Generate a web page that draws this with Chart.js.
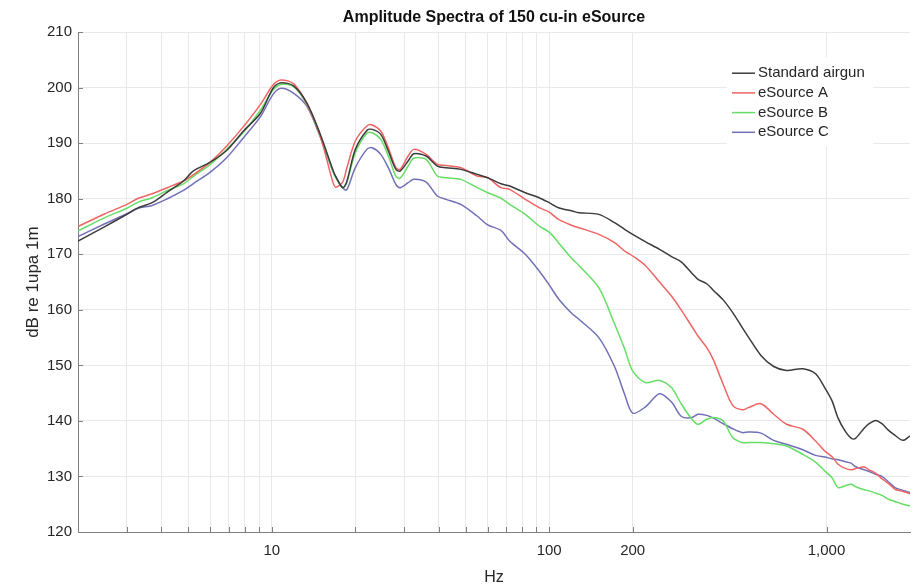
<!DOCTYPE html>
<html>
<head>
<meta charset="utf-8">
<title>Amplitude Spectra of 150 cu-in eSource</title>
<script src="https://cdn.jsdelivr.net/npm/chart.js@4.4.1/dist/chart.umd.min.js"></script>
<style>
  html, body { margin: 0; padding: 0; background: #fff; }
  #wrap { width: 918px; height: 588px; }
</style>
</head>
<body>
<div id="wrap"><canvas id="spectraChart" width="918" height="588"></canvas></div>
<script>
// frequencies (Hz) the curves were read at
const freqs = [
  2, 2.5, 3, 3.3, 3.7, 4.2, 4.8, 5.2, 6, 6.9,
  7.9, 9.1, 10.1, 10.8, 12, 13.4, 14.9, 16.6, 17, 18,
  18.6, 20, 22, 23, 24.7, 26.3, 28, 29, 31, 32.5,
  36, 39.5, 42.5, 48, 55, 60, 67, 72, 82, 92,
  100, 108, 121, 128, 151, 172, 187, 200, 222, 250,
  276, 300, 327, 344, 370, 391, 424, 459, 497, 523,
  580, 645, 717, 821, 913, 985, 1045, 1101, 1163, 1226,
  1268, 1367, 1425, 1502, 1584, 1674, 1767, 1888, 2000
];

// dB re 1upa 1m
const standardAirgun = [
  172.4, 175.0, 177.2, 178.4, 179.3, 181.2, 183.2, 185.0, 186.6, 188.8,
  192.2, 195.4, 199.9, 200.9, 200.3, 197.2, 191.8, 185.2, 184.0, 182.0,
  183.0, 188.9, 192.3, 192.5, 191.6, 188.6, 185.3, 185.0, 186.8, 188.1,
  187.7, 185.9, 185.6, 185.3, 184.4, 183.8, 182.7, 182.3, 181.1, 180.2,
  179.3, 178.4, 177.8, 177.5, 177.2, 175.7, 174.5, 173.6, 172.3, 170.9,
  169.6, 168.6, 166.6, 165.5, 164.7, 163.5, 161.8, 159.5, 156.8, 155.1,
  151.8, 149.8, 149.1, 149.4, 148.5, 146.0, 143.7, 140.5, 138.3, 136.9,
  136.8, 138.7, 139.5, 140.1, 139.5, 138.3, 137.4, 136.5, 137.3
];
const eSourceA = [
  175.0, 177.3, 179.0, 180.1, 180.9, 182.0, 183.2, 184.3, 186.6, 189.6,
  193.0, 197.0, 200.5, 201.4, 200.7, 197.0, 191.5, 183.0, 182.1, 183.0,
  185.4, 190.4, 193.1, 193.3, 192.2, 189.2, 185.6, 185.3, 187.7, 188.9,
  188.0, 186.2, 186.0, 185.6, 184.1, 183.8, 182.0, 181.7, 179.9, 178.4,
  177.6, 176.3, 175.2, 174.8, 173.6, 172.1, 170.6, 169.7, 168.0, 165.0,
  162.5, 159.9, 157.0, 155.3, 153.2, 151.0, 146.6, 142.8, 142.0, 142.4,
  143.1, 141.2, 139.4, 138.5, 136.4, 134.6, 133.6, 132.2, 131.5, 131.2,
  131.4, 131.7, 131.2, 130.6, 129.6, 128.7, 127.7, 127.3, 126.9
];
const eSourceB = [
  174.2, 176.6, 178.3, 179.4, 180.2, 181.5, 182.7, 184.0, 186.2, 189.0,
  192.0, 196.0, 199.6, 200.6, 200.2, 196.9, 191.5, 185.0, 183.8, 182.0,
  182.8, 188.3, 191.8, 191.9, 190.7, 187.7, 184.1, 183.7, 185.9, 187.3,
  187.1, 184.1, 183.8, 183.5, 182.0, 181.1, 180.1, 179.0, 177.2, 175.1,
  174.0, 172.1, 169.2, 168.0, 164.0, 157.5, 153.0, 149.0, 146.9, 147.3,
  146.0, 143.0, 140.3, 139.4, 140.3, 140.6, 140.0, 137.0, 136.1, 136.1,
  136.1, 135.9, 135.5, 134.0, 132.6, 131.0, 129.8, 128.0, 128.3, 128.6,
  128.2, 127.6, 127.4, 127.0, 126.6, 125.9, 125.5, 125.0, 124.7
];
const eSourceC = [
  173.2, 175.5, 177.3, 178.3, 178.8, 180.0, 181.5, 182.7, 184.8, 187.5,
  191.0, 194.8, 198.8, 199.9, 199.0, 196.6, 191.3, 185.0, 184.0, 182.0,
  181.6, 185.6, 188.9, 189.2, 188.0, 185.6, 182.6, 182.0, 182.9, 183.5,
  183.0, 180.5, 179.9, 179.0, 176.9, 175.3, 174.3, 172.4, 170.0, 167.0,
  164.5, 162.0, 159.3, 158.3, 155.0, 149.8, 144.8, 141.4, 142.5, 144.9,
  143.4, 140.8, 140.6, 141.2, 141.0, 140.5, 139.5, 138.6, 137.9, 138.0,
  137.8, 136.5, 135.8, 134.8, 133.8, 133.5, 133.2, 133.0, 132.7, 132.4,
  131.8, 131.2, 130.9, 130.4, 130.0, 129.0, 128.0, 127.5, 127.1
];

const seriesNames = ['Standard airgun', 'eSource A', 'eSource B', 'eSource C'];
const seriesColors = ['#3c3c3c', '#f06464', '#66de66', '#7070b8'];

const xTickValues = [2, 3, 4, 5, 6, 7, 8, 9, 10, 20, 30, 40, 50, 60, 70, 80, 90, 100, 200, 1000];
const xLabelValues = [10, 100, 200, 1000];

const FONT = '"Liberation Sans", Arial, Helvetica, sans-serif';
const TEXT = '#262626';

function toPoints(vals) {
  return freqs.map((f, i) => ({ x: f, y: vals[i] }));
}

// MATLAB-ish tick marks pointing into the plot
const innerTicks = {
  id: 'innerTicks',
  afterDatasetsDraw(chart) {
    const { ctx, chartArea: a, scales: { x, y } } = chart;
    ctx.save();
    ctx.strokeStyle = '#808080';
    ctx.lineWidth = 1;
    ctx.beginPath();
    x.ticks.forEach(t => {
      const px = Math.round(x.getPixelForValue(t.value)) + 0.5;
      ctx.moveTo(px, a.bottom);
      ctx.lineTo(px, a.bottom - 5);
    });
    y.ticks.forEach(t => {
      const py = Math.round(y.getPixelForValue(t.value)) + 0.5;
      ctx.moveTo(a.left, py);
      ctx.lineTo(a.left + 5, py);
    });
    ctx.stroke();
    ctx.restore();
  }
};

// legend box in the upper right of the axes
const boxLegend = {
  id: 'boxLegend',
  afterDraw(chart) {
    const { ctx, chartArea: a } = chart;
    const left = a.right - 183;
    const top = a.top + 25;
    ctx.save();
    ctx.fillStyle = '#fff';
    ctx.fillRect(left, top, 146, 89);
    ctx.font = '15px ' + FONT;
    ctx.textBaseline = 'middle';
    chart.data.datasets.forEach((ds, i) => {
      const yy = top + 16 + i * 19.7;
      ctx.strokeStyle = ds.borderColor;
      ctx.lineWidth = 1.5;
      ctx.beginPath();
      ctx.moveTo(left + 5, yy);
      ctx.lineTo(left + 28, yy);
      ctx.stroke();
      ctx.fillStyle = TEXT;
      ctx.fillText(ds.label, left + 31, yy);
    });
    ctx.restore();
  }
};

const allSeries = [standardAirgun, eSourceA, eSourceB, eSourceC];

const ctx = document.getElementById('spectraChart').getContext('2d');
new Chart(ctx, {
  type: 'line',
  data: {
    datasets: allSeries.map((vals, i) => ({
      label: seriesNames[i],
      data: toPoints(vals),
      borderColor: seriesColors[i],
      backgroundColor: seriesColors[i],
      borderWidth: 1.5,
      pointRadius: 0,
      tension: 0.3,
      fill: false
    }))
  },
  options: {
    responsive: false,
    animation: false,
    layout: { padding: { left: 0, right: 8, top: 0, bottom: 0 } },
    plugins: {
      legend: { display: false },
      tooltip: { enabled: false },
      title: {
        display: true,
        fullSize: false,
        text: 'Amplitude Spectra of 150 cu-in eSource',
        color: '#111',
        font: { family: FONT, size: 16, weight: 'bold' },
        padding: { top: 8, bottom: 5 }
      }
    },
    scales: {
      x: {
        type: 'logarithmic',
        min: 2,
        max: 2000,
        afterBuildTicks: scale => { scale.ticks = xTickValues.map(v => ({ value: v })); },
        afterFit: scale => { scale.height = 56; },
        ticks: {
          autoSkip: false,
          maxRotation: 0,
          padding: 10,
          color: TEXT,
          font: { family: FONT, size: 15 },
          callback: v => xLabelValues.includes(v) ? v.toLocaleString('en-US') : ''
        },
        grid: { color: '#e9e9e9', drawTicks: false },
        border: { color: '#808080' },
        title: {
          display: true,
          text: 'Hz',
          color: TEXT,
          font: { family: FONT, size: 16 },
          padding: { top: 0, bottom: 1 }
        }
      },
      y: {
        min: 120,
        max: 210,
        afterFit: scale => { scale.width = 78; },
        ticks: {
          stepSize: 10,
          padding: 6,
          color: TEXT,
          font: { family: FONT, size: 15 },
        },
        grid: { color: '#e9e9e9', drawTicks: false },
        border: { color: '#808080' },
        title: {
          display: true,
          text: 'dB re 1upa 1m',
          color: TEXT,
          font: { family: FONT, size: 17 },
          padding: { top: 23, bottom: 0 }
        }
      }
    }
  },
  plugins: [innerTicks, boxLegend]
});
</script>
</body>
</html>
